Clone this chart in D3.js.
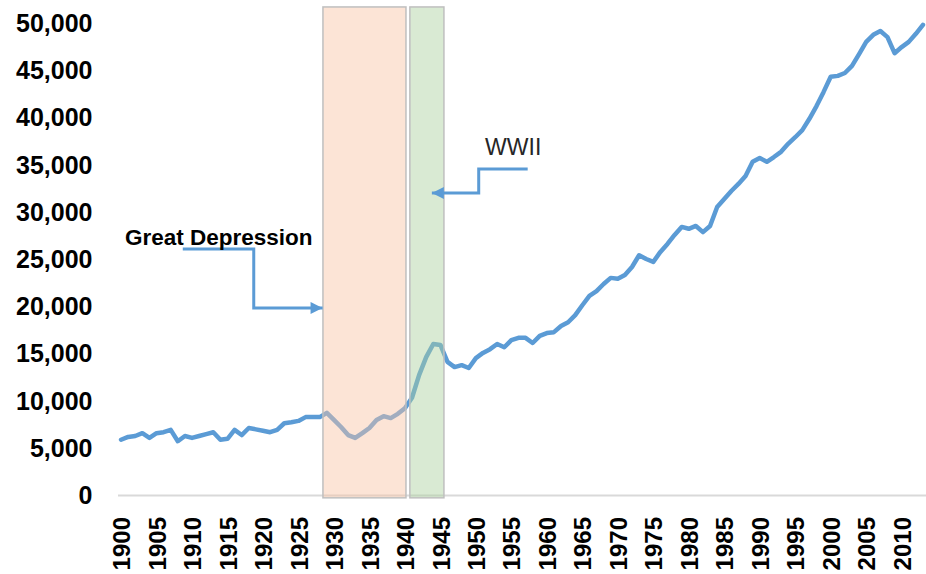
<!DOCTYPE html>
<html>
<head>
<meta charset="utf-8">
<script src="https://cdn.jsdelivr.net/npm/d3@7"></script>
<style>
  html, body { margin: 0; padding: 0; background: #fff; }
  #chart { width: 926px; height: 574px; }
</style>
</head>
<body>
<div id="chart"></div>
<script>
// real GDP per capita, one value per year 1900..2013
const years = d3.range(1900, 2014);
const values = [
  5850, 6150, 6250, 6550, 6050, 6550, 6650, 6900, 5700, 6250,
  6050, 6250, 6450, 6650, 5850, 5950, 6900, 6350, 7100, 6950,
  6800, 6650, 6900, 7600, 7700, 7850, 8250, 8250, 8250, 8700,
  7950, 7200, 6350, 6050, 6550, 7100, 7950, 8350, 8150, 8600,
  9200, 10300, 12700, 14600, 16000, 15900, 14100, 13550, 13750, 13450,
  14500, 15050, 15450, 16000, 15650, 16400, 16650, 16650, 16100, 16850,
  17150, 17250, 17900, 18300, 19050, 20100, 21100, 21600, 22350, 23000,
  22900, 23300, 24150, 25400, 25000, 24700, 25750, 26600, 27550, 28400,
  28200, 28500, 27850, 28500, 30500, 31350, 32200, 32950, 33800, 35300,
  35700, 35300, 35800, 36350, 37200, 37900, 38650, 39850, 41200, 42700,
  44300, 44400, 44700, 45450, 46700, 48000, 48750, 49150, 48500, 46800,
  47450, 48000, 48850, 49800
];
const xTicks = d3.range(1900, 2011, 5);
const yTicks = [0, 5000, 10000, 15000, 20000, 25000, 30000, 35000, 40000, 45000, 50000];

// shaded periods (in years) and annotation callouts (year, value)
const periods = [
  { name: 'Great Depression', from: 1928.45, to: 1940.15, fill: '#F9C4A4', opacity: 0.45 },
  { name: 'WWII', from: 1940.7, to: 1945.5, fill: '#ABD19E', opacity: 0.45 }
];
const callouts = [
  { label: 'Great Depression', bold: true, at: [1900.55, 26450],
    path: [[1908.7, 26060], [1918.7, 26060], [1918.7, 19810], [1928.4, 19810]] },
  { label: 'WWII', bold: false, at: [1951.3, 36000],
    path: [[1957.3, 34530], [1950.4, 34530], [1950.4, 31990], [1943.8, 31990]] }
];

const W = 926, H = 574;
const blue = '#5B9BD5';
const font = '"Liberation Sans", Arial, sans-serif';

const svg = d3.select('#chart').append('svg')
  .attr('width', W).attr('height', H)
  .style('font-family', font);

const x = d3.scaleLinear().domain([1899.5, 2013.5]).range([117.5, 926.5]);
const y = d3.scaleLinear().domain([0, 50000]).range([495, 23]);

// arrow head
svg.append('defs').append('marker')
  .attr('id', 'arrow')
  .attr('viewBox', '0 0 10 10')
  .attr('refX', 10).attr('refY', 5)
  .attr('markerWidth', 13).attr('markerHeight', 12)
  .attr('markerUnits', 'userSpaceOnUse')
  .attr('orient', 'auto')
  .append('path')
  .attr('d', 'M0,0L10,5L0,10Z')
  .attr('fill', blue);

// y axis (labels only)
const yAxis = svg.append('g')
  .attr('transform', `translate(${x.range()[0]},0)`)
  .call(d3.axisLeft(y).tickValues(yTicks).tickSize(0).tickPadding(25).tickFormat(d3.format(',')));
yAxis.select('.domain').remove();
yAxis.selectAll('text')
  .attr('dy', '0.34em')
  .style('font-family', font)
  .style('font-size', '25px')
  .style('font-weight', 'bold')
  .attr('fill', '#000');

// x axis
const xAxis = svg.append('g')
  .attr('transform', `translate(0,${y(0)})`)
  .call(d3.axisBottom(x).tickValues(xTicks).tickSize(0).tickFormat(d3.format('d')));
xAxis.select('.domain')
  .attr('stroke', '#d9d9d9')
  .attr('stroke-width', 2);
xAxis.selectAll('text')
  .attr('transform', 'rotate(-90)')
  .attr('x', -22)
  .attr('y', 0)
  .attr('dy', '0.36em')
  .attr('text-anchor', 'end')
  .style('font-family', font)
  .style('font-size', '24px')
  .style('font-weight', 'bold')
  .attr('fill', '#000');

// the line
const line = d3.line()
  .x((d, i) => x(years[i]))
  .y(d => y(d));

svg.append('path')
  .datum(values)
  .attr('d', line)
  .attr('fill', 'none')
  .attr('stroke', blue)
  .attr('stroke-width', 4.5)
  .attr('stroke-linejoin', 'round')
  .attr('stroke-linecap', 'round');

// shaded periods on top of the line
svg.append('g')
  .selectAll('rect')
  .data(periods)
  .join('rect')
  .attr('x', d => x(d.from))
  .attr('width', d => x(d.to) - x(d.from))
  .attr('y', y(51700))
  .attr('height', y(-300) - y(51700))
  .attr('fill', d => d.fill)
  .attr('fill-opacity', d => d.opacity)
  .attr('stroke', '#bfbfbf')
  .attr('stroke-width', 1.5);

// callouts
const co = svg.append('g').selectAll('g').data(callouts).join('g');
co.append('path')
  .attr('d', d => d3.line()(d.path.map(p => [x(p[0]), y(p[1])])))
  .attr('fill', 'none')
  .attr('stroke', blue)
  .attr('stroke-width', 3)
  .attr('marker-end', 'url(#arrow)');
co.append('text')
  .attr('x', d => x(d.at[0]))
  .attr('y', d => y(d.at[1]))
  .text(d => d.label)
  .style('font-size', d => d.bold ? '22.5px' : '23px')
  .style('font-weight', d => d.bold ? 'bold' : 'normal')
  .attr('fill', d => d.bold ? '#000' : '#262626');
</script>
</body>
</html>
